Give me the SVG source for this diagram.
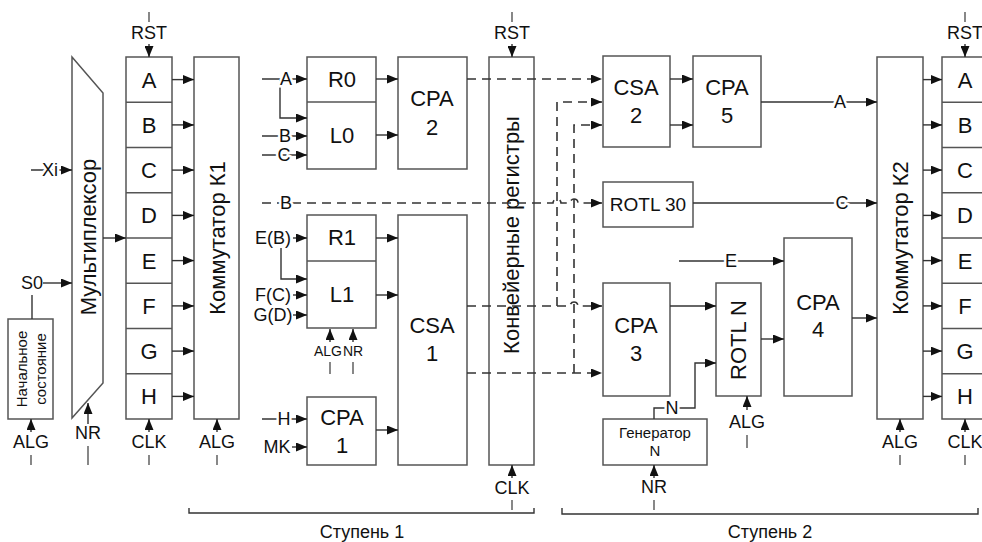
<svg xmlns="http://www.w3.org/2000/svg" width="982" height="542" viewBox="0 0 982 542">
<style>
.box{fill:#fff;stroke:#555;stroke-width:1.5}
.div{stroke:#555;stroke-width:1.5}
.ln{fill:none;stroke:#333;stroke-width:1.4}
.ds{fill:none;stroke:#333;stroke-width:1.6;stroke-dasharray:9 6}
.tk{stroke:#555;stroke-width:1.4}
text{font-family:"Liberation Sans",Arial,sans-serif;fill:#111;text-anchor:middle;dominant-baseline:central}
.b{font-size:22px}
.m{font-size:18px}
.s{font-size:15px}
.xs{font-size:14px}
.h{stroke:#fff;stroke-width:5;paint-order:stroke}
</style>
<defs>
<marker id="ah" markerWidth="11" markerHeight="9" refX="11" refY="4.5" orient="auto" markerUnits="userSpaceOnUse"><path d="M0,0 L11,4.5 L0,9 z" fill="#111"/></marker>
</defs>

<g id="mux">
<polygon class="box" points="72,57 103,93 103,383 72,418"/>
<text class="b" transform="translate(88,237) rotate(-90)">Мультиплексор</text>
</g>

<g id="init">
<rect class="box" x="8" y="319" width="45" height="100"/>
<text class="s" transform="translate(21,369) rotate(-90)">Начальное</text>
<text class="s" transform="translate(40,369) rotate(-90)">состояние</text>
</g>

<g id="regs1">
<rect class="box" x="126" y="57" width="46" height="362"/>
<line class="div" x1="126" y1="102.25" x2="172" y2="102.25"/>
<line class="div" x1="126" y1="147.5" x2="172" y2="147.5"/>
<line class="div" x1="126" y1="192.75" x2="172" y2="192.75"/>
<line class="div" x1="126" y1="238" x2="172" y2="238"/>
<line class="div" x1="126" y1="283.25" x2="172" y2="283.25"/>
<line class="div" x1="126" y1="328.5" x2="172" y2="328.5"/>
<line class="div" x1="126" y1="373.75" x2="172" y2="373.75"/>
<text class="b" x="149" y="80">A</text>
<text class="b" x="149" y="125">B</text>
<text class="b" x="149" y="170">C</text>
<text class="b" x="149" y="215">D</text>
<text class="b" x="149" y="261">E</text>
<text class="b" x="149" y="306">F</text>
<text class="b" x="149" y="351">G</text>
<text class="b" x="149" y="396">H</text>
</g>

<g id="k1">
<rect class="box" x="194" y="57" width="45" height="362"/>
<text class="b" transform="translate(217,238) rotate(-90)">Коммутатор К1</text>
</g>

<g id="rl0">
<rect class="box" x="307" y="57" width="69" height="112"/>
<line class="div" x1="307" y1="102" x2="376" y2="102"/>
<text class="b" x="342" y="79">R0</text>
<text class="b" x="342" y="135">L0</text>
</g>

<g id="cpa2">
<rect class="box" x="398" y="57" width="69" height="112"/>
<text class="b" x="432" y="98">CPA</text>
<text class="b" x="432" y="127">2</text>
</g>

<g id="rl1">
<rect class="box" x="307" y="215" width="69" height="113"/>
<line class="div" x1="307" y1="261" x2="376" y2="261"/>
<text class="b" x="342" y="237">R1</text>
<text class="b" x="342" y="294">L1</text>
</g>

<g id="cpa1">
<rect class="box" x="307" y="397" width="69" height="68"/>
<text class="b" x="342" y="417">CPA</text>
<text class="b" x="342" y="445">1</text>
</g>

<g id="csa1">
<rect class="box" x="398" y="215" width="69" height="250"/>
<text class="b" x="432" y="325">CSA</text>
<text class="b" x="432" y="353">1</text>
</g>

<g id="pipe">
<rect class="box" x="489" y="57" width="45" height="408"/>
<text class="b" transform="translate(511,235) rotate(-90)">Конвейерные регистры</text>
</g>

<g id="csa2">
<rect class="box" x="603" y="56" width="67" height="91"/>
<text class="b" x="636" y="87">CSA</text>
<text class="b" x="636" y="115">2</text>
</g>

<g id="cpa5">
<rect class="box" x="693" y="56" width="68" height="91"/>
<text class="b" x="727" y="87">CPA</text>
<text class="b" x="727" y="115">5</text>
</g>

<g id="rotl30">
<rect class="box" x="603" y="182" width="90" height="45"/>
<text x="648" y="204" style="font-size:19px">ROTL 30</text>
</g>

<g id="cpa3">
<rect class="box" x="603" y="283" width="67" height="113"/>
<text class="b" x="636" y="325">CPA</text>
<text class="b" x="636" y="353">3</text>
</g>

<g id="rotln">
<rect class="box" x="716" y="283" width="45" height="113"/>
<text class="b" transform="translate(738,340) rotate(-90)">ROTL N</text>
</g>

<g id="cpa4">
<rect class="box" x="784" y="238" width="68" height="158"/>
<text class="b" x="818" y="302">CPA</text>
<text class="b" x="818" y="329">4</text>
</g>

<g id="gen">
<rect class="box" x="603" y="419" width="104" height="46"/>
<text class="s" x="655" y="432">Генератор</text>
<text class="s" x="655" y="450">N</text>
</g>

<g id="k2">
<rect class="box" x="877" y="57" width="46" height="362"/>
<text class="b" transform="translate(900,238) rotate(-90)">Коммутатор К2</text>
</g>

<g id="regs2">
<rect class="box" x="942" y="57" width="46" height="362"/>
<line class="div" x1="942" y1="102.25" x2="988" y2="102.25"/>
<line class="div" x1="942" y1="147.5" x2="988" y2="147.5"/>
<line class="div" x1="942" y1="192.75" x2="988" y2="192.75"/>
<line class="div" x1="942" y1="238" x2="988" y2="238"/>
<line class="div" x1="942" y1="283.25" x2="988" y2="283.25"/>
<line class="div" x1="942" y1="328.5" x2="988" y2="328.5"/>
<line class="div" x1="942" y1="373.75" x2="988" y2="373.75"/>
<text class="b" x="965" y="80">A</text>
<text class="b" x="965" y="125">B</text>
<text class="b" x="965" y="170">C</text>
<text class="b" x="965" y="215">D</text>
<text class="b" x="965" y="261">E</text>
<text class="b" x="965" y="306">F</text>
<text class="b" x="965" y="351">G</text>
<text class="b" x="965" y="396">H</text>
</g>

<g id="connectors">
<path class="ln" d="M31,170 H72" marker-end="url(#ah)"/>
<text class="m h" x="50" y="170">Xi</text>
<text class="m" x="32" y="283">S0</text>
<path class="ln" d="M43,283 H72" marker-end="url(#ah)"/>
<path class="ln" d="M32,295 V319"/>
<path class="ln" d="M103,238 H126" marker-end="url(#ah)"/>
<path class="ln" d="M172,79.6 H194" marker-end="url(#ah)"/>
<path class="ln" d="M172,124.9 H194" marker-end="url(#ah)"/>
<path class="ln" d="M172,170.1 H194" marker-end="url(#ah)"/>
<path class="ln" d="M172,215.4 H194" marker-end="url(#ah)"/>
<path class="ln" d="M172,260.6 H194" marker-end="url(#ah)"/>
<path class="ln" d="M172,305.9 H194" marker-end="url(#ah)"/>
<path class="ln" d="M172,351.1 H194" marker-end="url(#ah)"/>
<path class="ln" d="M172,396.4 H194" marker-end="url(#ah)"/>
<line class="tk" x1="149" y1="12" x2="149" y2="22"/>
<text class="m" x="149" y="33">RST</text>
<path class="ln" d="M149,44 V57" marker-end="url(#ah)"/>
<line class="tk" x1="512" y1="12" x2="512" y2="22"/>
<text class="m" x="512" y="33">RST</text>
<path class="ln" d="M512,44 V57" marker-end="url(#ah)"/>
<line class="tk" x1="965" y1="12" x2="965" y2="22"/>
<text class="m" x="965" y="33">RST</text>
<path class="ln" d="M965,44 V57" marker-end="url(#ah)"/>

<path class="ln" d="M31,432 V419" marker-end="url(#ah)"/>
<text class="m" x="31" y="442">ALG</text>
<line class="tk" x1="31" y1="455" x2="31" y2="465"/>
<path class="ln" d="M88,424 V403" marker-end="url(#ah)"/>
<text class="m" x="88" y="433">NR</text>
<line class="tk" x1="88" y1="446" x2="88" y2="465"/>
<path class="ln" d="M149,432 V419" marker-end="url(#ah)"/>
<text class="m" x="149" y="442">CLK</text>
<line class="tk" x1="149" y1="455" x2="149" y2="465"/>
<path class="ln" d="M217,432 V419" marker-end="url(#ah)"/>
<text class="m" x="217" y="442">ALG</text>
<line class="tk" x1="217" y1="455" x2="217" y2="465"/>

<path class="ln" d="M330,342 V329" marker-end="url(#ah)"/>
<path class="ln" d="M353,342 V329" marker-end="url(#ah)"/>
<text class="xs" x="328" y="351">ALG</text>
<text class="xs" x="353" y="351">NR</text>
<line class="tk" x1="330" y1="362" x2="330" y2="374"/>
<line class="tk" x1="353" y1="362" x2="353" y2="374"/>

<path class="ln" d="M512,478 V465" marker-end="url(#ah)"/>
<text class="m" x="512" y="488">CLK</text>
<line class="tk" x1="512" y1="500" x2="512" y2="510"/>
<path class="ln" d="M654,478 V465" marker-end="url(#ah)"/>
<text class="m" x="654" y="487">NR</text>
<line class="tk" x1="654" y1="500" x2="654" y2="510"/>
<path class="ln" d="M747,410 V396" marker-end="url(#ah)"/>
<text class="m" x="747" y="422">ALG</text>
<line class="tk" x1="747" y1="435" x2="747" y2="448"/>
<path class="ln" d="M900,432 V419" marker-end="url(#ah)"/>
<text class="m" x="900" y="442">ALG</text>
<line class="tk" x1="900" y1="455" x2="900" y2="465"/>
<path class="ln" d="M965,432 V419" marker-end="url(#ah)"/>
<text class="m" x="965" y="442">CLK</text>
<line class="tk" x1="965" y1="455" x2="965" y2="465"/>

<path class="ln" d="M262,79 H307" marker-end="url(#ah)"/>
<path class="ln" d="M280,79 V118 H307" marker-end="url(#ah)"/>
<text class="m h" x="286" y="79">A</text>
<path class="ln" d="M262,136 H307" marker-end="url(#ah)"/>
<text class="m h" x="285" y="136">B</text>
<path class="ln" d="M262,155 H307" marker-end="url(#ah)"/>
<text class="m h" x="284" y="155">C</text>
<path class="ln" d="M376,79 H398" marker-end="url(#ah)"/>
<path class="ln" d="M376,135 H398" marker-end="url(#ah)"/>

<text class="m" x="273" y="238">E(B)</text>
<path class="ln" d="M293,238 H307" marker-end="url(#ah)"/>
<path class="ln" d="M281,248 V279 H307" marker-end="url(#ah)"/>
<text class="m" x="273" y="295">F(C)</text>
<path class="ln" d="M293,295 H307" marker-end="url(#ah)"/>
<text class="m" x="273" y="315">G(D)</text>
<path class="ln" d="M293,315 H307" marker-end="url(#ah)"/>
<path class="ln" d="M376,238 H398" marker-end="url(#ah)"/>
<path class="ln" d="M376,295 H398" marker-end="url(#ah)"/>

<path class="ln" d="M262,419 H307" marker-end="url(#ah)"/>
<text class="m h" x="284" y="419">H</text>
<text class="m" x="277" y="447">MK</text>
<path class="ln" d="M292,447 H307" marker-end="url(#ah)"/>
<path class="ln" d="M376,430 H398" marker-end="url(#ah)"/>

<path class="ds" d="M467,79 H602" marker-end="url(#ah)"/>
<path class="ds" d="M262,203 H553 a4,4 0 0 1 8,0 H570 a4,4 0 0 1 8,0 H602" marker-end="url(#ah)"/>
<text class="m h" x="286" y="203">B</text>
<path class="ds" d="M467,306 H570 a4,4 0 0 1 8,0 H602" marker-end="url(#ah)"/>
<path class="ds" d="M467,373 H602" marker-end="url(#ah)"/>
<path class="ds" d="M557,306 V102 H602" marker-end="url(#ah)"/>
<path class="ds" d="M574,373 V125 H602" marker-end="url(#ah)"/>

<path class="ln" d="M670,79 H693" marker-end="url(#ah)"/>
<path class="ln" d="M670,125 H693" marker-end="url(#ah)"/>
<path class="ln" d="M761,102 H877" marker-end="url(#ah)"/>
<text class="m h" x="840" y="102">A</text>
<path class="ln" d="M693,203 H877" marker-end="url(#ah)"/>
<text class="m h" x="842" y="203">C</text>
<path class="ln" d="M679,261 H784" marker-end="url(#ah)"/>
<text class="m h" x="731" y="261">E</text>
<path class="ln" d="M670,306 H716" marker-end="url(#ah)"/>
<path class="ln" d="M761,339 H784" marker-end="url(#ah)"/>
<path class="ln" d="M654,419 V408 H695 V363 H716" marker-end="url(#ah)"/>
<text class="m h" x="672" y="408">N</text>
<path class="ln" d="M852,318 H877" marker-end="url(#ah)"/>

<path class="ln" d="M923,79.6 H942" marker-end="url(#ah)"/>
<path class="ln" d="M923,124.9 H942" marker-end="url(#ah)"/>
<path class="ln" d="M923,170.1 H942" marker-end="url(#ah)"/>
<path class="ln" d="M923,215.4 H942" marker-end="url(#ah)"/>
<path class="ln" d="M923,260.6 H942" marker-end="url(#ah)"/>
<path class="ln" d="M923,305.9 H942" marker-end="url(#ah)"/>
<path class="ln" d="M923,351.1 H942" marker-end="url(#ah)"/>
<path class="ln" d="M923,396.4 H942" marker-end="url(#ah)"/>
</g>

<g id="stages">
<path class="ln" d="M189,508 V513 H534 V508"/>
<text class="m" x="362" y="532">Ступень 1</text>
<path class="ln" d="M562,508 V514 H978 V508"/>
<text class="m" x="770" y="532">Ступень 2</text>
</g>
</svg>
